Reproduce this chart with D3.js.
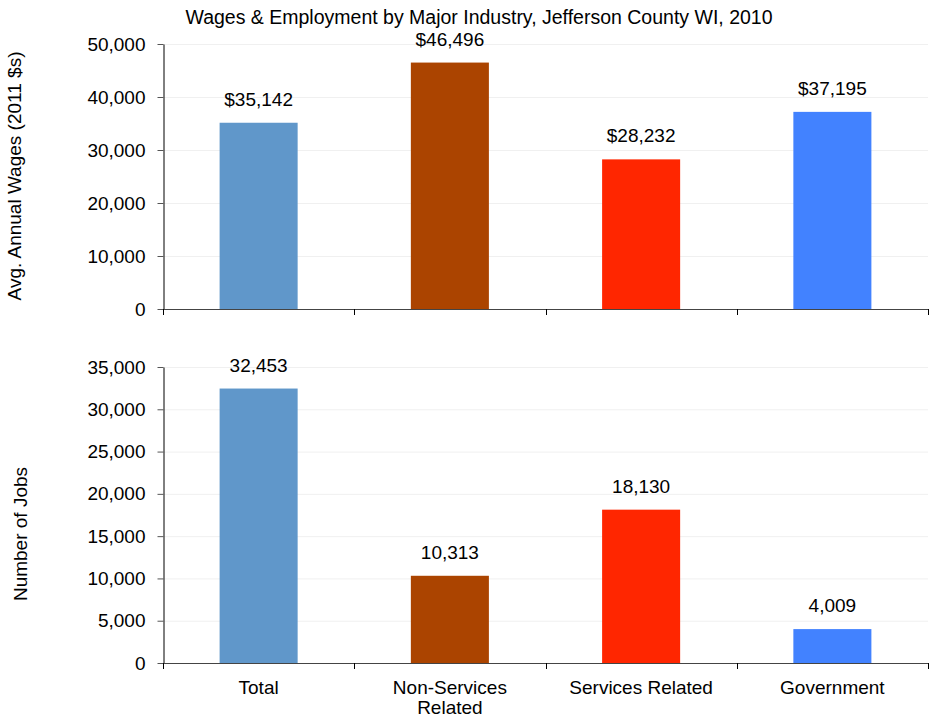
<!DOCTYPE html>
<html>
<head>
<meta charset="utf-8">
<script src="https://cdn.jsdelivr.net/npm/d3@7/dist/d3.min.js"></script>
<style>
  html, body { margin: 0; padding: 0; background: #fff; }
  svg text { font-family: "Liberation Sans", Arial, Helvetica, sans-serif; fill: #000; }
</style>
</head>
<body>
<svg id="chart" width="935" height="717"></svg>
<script>
const categories = ["Total", "Non-Services Related", "Services Related", "Government"];
const categoryLines = [["Total"], ["Non-Services", "Related"], ["Services Related"], ["Government"]];
const wages = [35142, 46496, 28232, 37195];
const jobs = [32453, 10313, 18130, 4009];
const colors = ["#6097CA", "#AB4400", "#FF2600", "#4282FF"];
const wageTicks = [0, 10000, 20000, 30000, 40000, 50000];
const jobTicks = [0, 5000, 10000, 15000, 20000, 25000, 30000, 35000];
const title = "Wages & Employment by Major Industry, Jefferson County WI, 2010";
const wageLabel = "Avg. Annual Wages (2011 $s)";
const jobLabel = "Number of Jobs";

const svg = d3.select("#chart");
const left = 163, right = 928;
const fmt = d3.format(",");

const x = d3.scaleBand().domain(categories).range([left, right])
  .paddingInner(0.592).paddingOuter(0.296);
const step = x.step();

svg.append("text").attr("x", 479).attr("y", 24).attr("text-anchor", "middle")
  .style("font-size", "19.5px").text(title);

function panel(values, ticks, top, bottom, maxV, prefix, yLabel, yLabelX, yLabelY, showCats) {
  const y = d3.scaleLinear().domain([0, maxV]).range([bottom, top]);
  const g = svg.append("g");
  g.selectAll("line.grid").data(ticks.slice(1)).join("line")
    .attr("x1", left).attr("x2", right)
    .attr("y1", d => y(d) + 0.5).attr("y2", d => y(d) + 0.5)
    .attr("stroke", "#f0f0f0").attr("stroke-width", 1);
  g.selectAll("rect").data(values).join("rect")
    .attr("x", (d, i) => x(categories[i]))
    .attr("width", x.bandwidth())
    .attr("y", d => y(d))
    .attr("height", d => bottom - y(d))
    .attr("fill", (d, i) => colors[i]);
  g.selectAll("text.val").data(values).join("text")
    .attr("class", "val")
    .attr("x", (d, i) => x(categories[i]) + x.bandwidth() / 2)
    .attr("y", d => y(d) - 17)
    .attr("text-anchor", "middle")
    .style("font-size", "19px")
    .text(d => prefix + fmt(d));
  const yAxis = d3.axisLeft(y).tickValues(ticks).tickFormat(fmt).tickSize(6).tickPadding(12).tickSizeOuter(0);
  const ya = svg.append("g").attr("transform", `translate(${left + 0.5},0)`).call(yAxis);
  ya.select(".domain").attr("stroke", "#000");
  ya.selectAll(".tick line").attr("stroke", "#555");
  ya.selectAll(".tick text").style("font-size", "19px").attr("fill", "#000");
  const xa = svg.append("g");
  xa.append("line").attr("x1", left).attr("x2", right + 1)
    .attr("y1", bottom + 0.5).attr("y2", bottom + 0.5)
    .attr("stroke", "#444").attr("stroke-width", 1.2);
  const bounds = d3.range(categories.length + 1).map(i => x.range()[0] + i * step);
  xa.selectAll("line.bt").data(bounds).join("line")
    .attr("x1", d => Math.round(d) + 0.5).attr("x2", d => Math.round(d) + 0.5)
    .attr("y1", bottom).attr("y2", bottom + 6)
    .attr("stroke", "#000");
  if (showCats) {
    categoryLines.forEach((lines, i) => {
      const t = xa.append("text")
        .attr("x", x(categories[i]) + x.bandwidth() / 2)
        .attr("y", bottom + 31)
        .attr("text-anchor", "middle")
        .style("font-size", "19px");
      lines.forEach((ln, j) => t.append("tspan")
        .attr("x", x(categories[i]) + x.bandwidth() / 2)
        .attr("dy", j === 0 ? 0 : 20).text(ln));
    });
  }
  svg.append("text")
    .attr("transform", `translate(${yLabelX},${yLabelY}) rotate(-90)`)
    .attr("text-anchor", "middle")
    .style("font-size", "19px")
    .text(yLabel);
}

panel(wages, wageTicks, 44, 309, 50000, "$", wageLabel, 21, 176, false);
panel(jobs, jobTicks, 367, 663, 35000, "", jobLabel, 27, 534, true);
</script>
</body>
</html>
